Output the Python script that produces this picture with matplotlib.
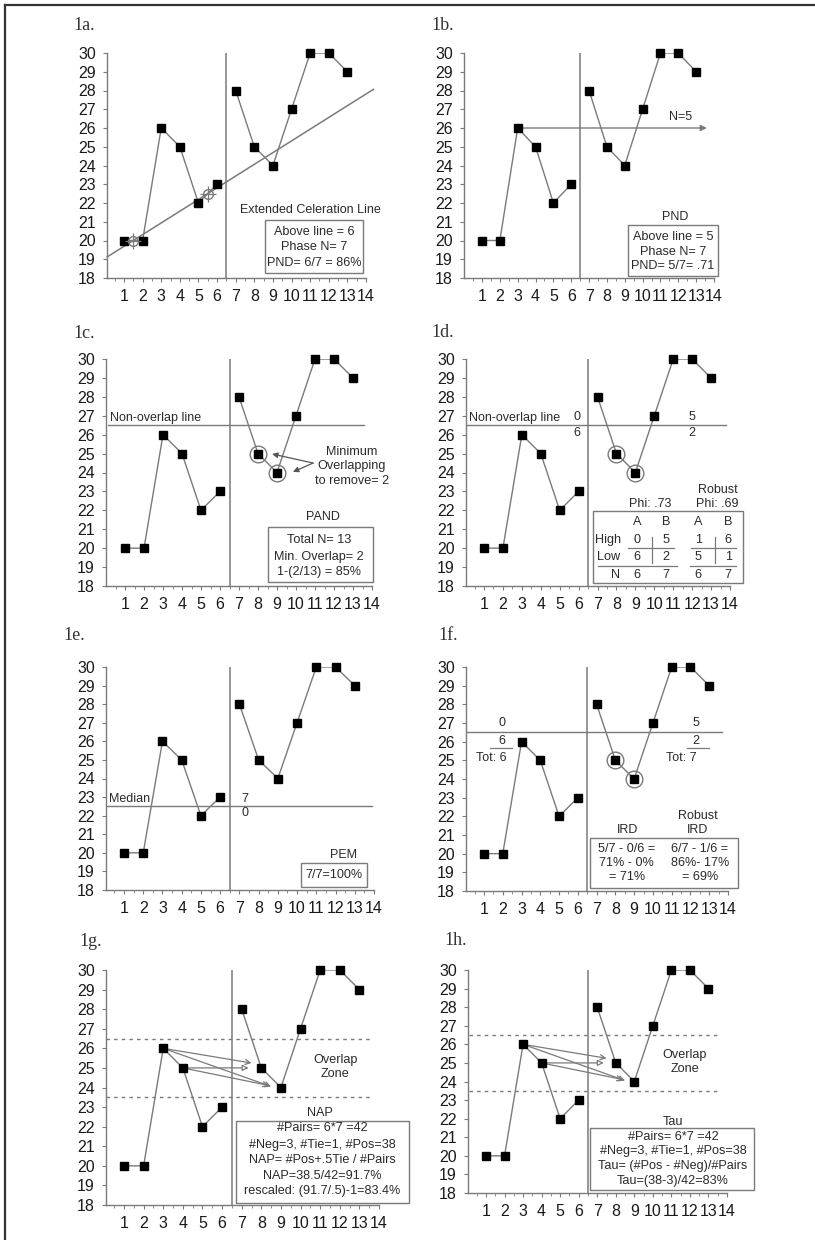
import numpy as np
import matplotlib.pyplot as plt

# --- data ---
sessions = np.arange(1, 14)
scores = [20, 20, 26, 25, 22, 23, 28, 25, 24, 27, 30, 30, 29]
n_a = 6  # phase A length, phase B = rest
phase_change = 6.5

celeration_pts_x = [1.5, 5.5]
celeration_pts_y = [20, 22.5]
nonoverlap_y = 26.5
median_y = 22.5
overlap_zone = [23.5, 26.5]
circled_sessions = [8, 9]

W, H = 815, 1240
GRAY = '#7a7a7a'
TXT = '#2a2a2a'
FS = 9      # annotation text
FB = 9.1    # text inside boxes
plt.rcParams['font.family'] = ['Liberation Sans', 'DejaVu Sans']

fig = plt.figure(figsize=(W / 100, H / 100), dpi=100)

# outer frame (top and left only, as in the scan)
fig.add_artist(plt.Line2D([5 / W, 5 / W], [0, 1 - 5 / H], color='#333333', lw=1.6))
fig.add_artist(plt.Line2D([5 / W, 1], [1 - 5 / H, 1 - 5 / H], color='#333333', lw=1.6))


def make_panel(label, lab_xy, yaxis_px, x1_px, x14_px, top_px, bot_px):
    sp = (x14_px - x1_px) / 13
    xl = 1 - (x1_px - yaxis_px) / sp
    ax = fig.add_axes([yaxis_px / W, 1 - bot_px / H,
                       (x14_px - yaxis_px) / W, (bot_px - top_px) / H])
    ax.set_xlim(xl, 14)
    ax.set_ylim(18, 30)
    for s in ['top', 'right']:
        ax.spines[s].set_visible(False)
    for s in ['left', 'bottom']:
        ax.spines[s].set_color(GRAY)
        ax.spines[s].set_linewidth(1.0)
    ax.set_xticks(range(1, 15))
    ax.set_xticks(np.arange(0.5, 14.01, 0.5), minor=True)
    ax.set_yticks(range(18, 31))
    ax.tick_params(axis='both', which='both', color=GRAY, labelsize=11.5,
                   labelcolor='#1a1a1a', direction='out')
    ax.tick_params(axis='x', which='major', length=3, pad=5)
    ax.tick_params(axis='x', which='minor', length=2)
    ax.tick_params(axis='y', length=3, pad=5)
    ax.axvline(phase_change, color=GRAY, lw=1.1)
    for sl in (slice(0, n_a), slice(n_a, None)):
        ax.plot(sessions[sl], scores[sl], '-', color=GRAY, lw=1.0, zorder=3)
        ax.plot(sessions[sl], scores[sl], 's', color='black', ms=5.5,
                zorder=4, clip_on=False)
    fig.text(lab_xy[0] / W, 1 - lab_xy[1] / H, label, family='Liberation Serif',
             fontsize=13, color='#333333', va='baseline')
    return ax


def box(ax, x0, y0, x1, y1):
    ax.add_patch(plt.Rectangle((x0, y0), x1 - x0, y1 - y0, fill=False,
                               ec=GRAY, lw=1.0, clip_on=False, zorder=5))


def txt(ax, x, y, s, size=FS, ha='center', va='center'):
    ax.text(x, y, s, fontsize=size, ha=ha, va=va, color=TXT, clip_on=False,
            zorder=6)


def circles(ax):
    yy = [scores[s - 1] for s in circled_sessions]
    ax.plot(circled_sessions, yy, 'o', mfc='none', mec=GRAY, ms=12, mew=1.0,
            zorder=5)


# ---------- 1a ----------
ax = make_panel('1a.', (73, 30), 107, 124, 366, 53, 278)
slope = (celeration_pts_y[1] - celeration_pts_y[0]) / (celeration_pts_x[1] - celeration_pts_x[0])
lx = np.array([0.1, 14.4])
ax.plot(lx, celeration_pts_y[0] + slope * (lx - celeration_pts_x[0]), color=GRAY,
        lw=1.1, clip_on=False, zorder=2)
ax.plot(celeration_pts_x, celeration_pts_y, 'o', mfc='none', mec=GRAY, ms=7, zorder=5)
ax.plot(celeration_pts_x, celeration_pts_y, '+', color=GRAY, ms=12, mew=0.9, zorder=5)
txt(ax, 11.0, 21.63, 'Extended Celeration Line')
box(ax, 8.58, 18.27, 13.85, 21.09)
for yy, s in zip([20.45, 19.65, 18.8], ['Above line = 6', 'Phase N= 7', 'PND= 6/7 = 86%']):
    txt(ax, 11.2, yy, s, FB)

# ---------- 1b ----------
ax = make_panel('1b.', (431, 30), 464, 482, 714, 53, 278)
ax.annotate('', xy=(13.6, 26), xytext=(3, 26),
            arrowprops=dict(arrowstyle='-|>', color=GRAY, lw=1.0,
                            mutation_scale=9, shrinkA=0, shrinkB=0),
            annotation_clip=False)
txt(ax, 12.1, 26.6, 'N=5')
txt(ax, 11.8, 21.25, 'PND')
box(ax, 9.18, 18.1, 14.2, 20.83)
for yy, s in zip([20.19, 19.39, 18.64], ['Above line = 5', 'Phase N= 7', 'PND= 5/7= .71']):
    txt(ax, 11.7, yy, s, FB)

# ---------- 1c ----------
ax = make_panel('1c.', (73, 338), 106, 125, 372, 359, 586)
ax.plot([0.1, 13.6], [nonoverlap_y] * 2, color=GRAY, lw=1.0)
txt(ax, 0.2, nonoverlap_y + 0.05, 'Non-overlap line', ha='left', va='bottom')
circles(ax)
for hx, hy in [(8.74, 24.98), (9.84, 24.03)]:
    ax.annotate('', xy=(hx, hy), xytext=(10.9, 24.5),
                arrowprops=dict(arrowstyle='-|>', color='#555555', lw=0.9,
                                mutation_scale=8, shrinkA=0, shrinkB=0),
                annotation_clip=False)
for yy, s in zip([25.08, 24.34, 23.55], ['Minimum', 'Overlapping', 'to remove= 2']):
    txt(ax, 12.95, yy, s, FB)
txt(ax, 11.4, 21.65, 'PAND')
box(ax, 8.53, 18.21, 14.05, 21.12)
for yy, s in zip([20.43, 19.53, 18.74], ['Total N= 13', 'Min. Overlap= 2', '1-(2/13) = 85%']):
    txt(ax, 11.2, yy, s, FB)

# ---------- 1d ----------
ax = make_panel('1d.', (431, 337), 466, 484, 730, 359, 586)
ax.plot([0.1, 13.8], [nonoverlap_y] * 2, color=GRAY, lw=1.0)
txt(ax, 0.2, nonoverlap_y + 0.05, 'Non-overlap line', ha='left', va='bottom')
txt(ax, 5.9, 26.93, '0')
txt(ax, 5.9, 26.09, '6')
txt(ax, 12.0, 26.93, '5')
txt(ax, 12.0, 26.09, '2')
circles(ax)
txt(ax, 9.78, 22.34, 'Phi: .73')
txt(ax, 13.38, 23.08, 'Robust')
txt(ax, 13.33, 22.34, 'Phi: .69')
box(ax, 6.77, 18.16, 14.7, 21.97)
cols = [9.1, 10.63, 12.32, 13.9]
rows = {'head': 21.38, 'High': 20.43, 'Low': 19.53, 'N': 18.58}
for cx, s in zip(cols, ['A', 'B', 'A', 'B']):
    txt(ax, cx, rows['head'], s, FB)
for cx, s in zip(cols, ['0', '5', '1', '6']):
    txt(ax, cx, rows['High'], s, FB)
for cx, s in zip(cols, ['6', '2', '5', '1']):
    txt(ax, cx, rows['Low'], s, FB)
for cx, s in zip(cols, ['6', '7', '6', '7']):
    txt(ax, cx, rows['N'], s, FB)
txt(ax, 7.56, rows['High'], 'High', FB)
txt(ax, 7.56, rows['Low'], 'Low', FB)
txt(ax, 7.93, rows['N'], 'N', FB)
for xa, xb in [(8.62, 11.05), (11.95, 14.3)]:
    ax.plot([xa, xb], [20.0, 20.0], color=GRAY, lw=0.9, clip_on=False)
for xa, xb in [(7.03, 11.2), (11.9, 14.3)]:
    ax.plot([xa, xb], [19.06, 19.06], color=GRAY, lw=0.9, clip_on=False)
for vx in [9.89, 13.22]:
    ax.plot([vx, vx], [19.22, 20.6], color=GRAY, lw=0.9, clip_on=False)

# ---------- 1e ----------
ax = make_panel('1e.', (63, 640), 106, 124, 374, 667, 890)
ax.plot([0.1, 13.9], [median_y] * 2, color=GRAY, lw=1.0)
txt(ax, 0.2, median_y + 0.05, 'Median', ha='left', va='bottom')
txt(ax, 7.3, 22.9, '7')
txt(ax, 7.3, 22.14, '0')
txt(ax, 12.4, 19.88, 'PEM')
box(ax, 10.2, 18.16, 13.64, 19.45)
txt(ax, 11.92, 18.8, '7/7=100%', FB)

# ---------- 1f ----------
ax = make_panel('1f.', (438, 640), 466, 484, 728, 667, 891)
ax.plot([0.1, 13.7], [nonoverlap_y] * 2, color=GRAY, lw=1.0)
circles(ax)
txt(ax, 1.96, 27.0, '0')
txt(ax, 1.96, 26.04, '6')
ax.plot([1.3, 2.5], [25.66, 25.66], color=GRAY, lw=0.9)
txt(ax, 1.4, 25.13, 'Tot: 6')
txt(ax, 12.3, 27.0, '5')
txt(ax, 12.3, 26.04, '2')
ax.plot([11.8, 13.0], [25.66, 25.66], color=GRAY, lw=0.9)
txt(ax, 11.5, 25.13, 'Tot: 7')
txt(ax, 8.67, 21.27, 'IRD')
txt(ax, 12.4, 22.0, 'Robust')
txt(ax, 12.4, 21.27, 'IRD')
box(ax, 6.65, 18.16, 14.53, 20.84)
for yy, a, b in zip([20.25, 19.5, 18.75], ['5/7 - 0/6 =', '71% - 0%', '= 71%'],
                    ['6/7 - 1/6 =', '86%- 17%', '= 69%']):
    txt(ax, 8.6, yy, a, FB)
    txt(ax, 12.5, yy, b, FB)


# ---------- 1g / 1h ----------
def pair_arrows(ax):
    pairs = [((3, 26), (7.5, 25.25), '->', 'none'),
             ((3, 26), (8.5, 24.05), '->', 'none'),
             ((4, 25), (7.35, 25.0), '-|>', 'white'),
             ((4, 25), (8.4, 24.1), '->', 'none')]
    for start, end, style, fc in pairs:
        props = dict(arrowstyle=style, color=GRAY, lw=0.9, mutation_scale=9,
                     shrinkA=0, shrinkB=0)
        if fc == 'white':
            props = dict(arrowstyle=style, ec=GRAY, fc='white', lw=0.9,
                         mutation_scale=9, shrinkA=0, shrinkB=0)
        ax.annotate('', xy=end, xytext=start, arrowprops=props, zorder=2)


ax = make_panel('1g.', (79, 946), 106, 124, 379, 970, 1205)
for yz in overlap_zone:
    ax.plot([0.1, 13.7], [yz, yz], color=GRAY, lw=1.0, ls=(0, (2.5, 3)))
pair_arrows(ax)
txt(ax, 11.77, 25.05, 'Overlap\nZone', FB)
txt(ax, 11.0, 22.7, 'NAP', FB)
box(ax, 6.7, 18.1, 15.55, 22.29)
for yy, s in zip([21.93, 21.06, 20.3, 19.48, 18.71],
                 ['#Pairs= 6*7 =42', '#Neg=3, #Tie=1, #Pos=38',
                  'NAP= #Pos+.5Tie / #Pairs', 'NAP=38.5/42=91.7%',
                  'rescaled: (91.7/.5)-1=83.4%']):
    txt(ax, 11.1, yy, s, FB)

ax = make_panel('1h.', (444, 945), 468, 486, 727, 970, 1193)
for yz in overlap_zone:
    ax.plot([0.1, 13.5], [yz, yz], color=GRAY, lw=1.0, ls=(0, (2.5, 3)))
pair_arrows(ax)
txt(ax, 11.73, 25.05, 'Overlap\nZone', FB)
txt(ax, 11.09, 21.82, 'Tau', FB)
box(ax, 6.61, 18.16, 15.45, 21.5)
for yy, s in zip([21.01, 20.26, 19.45, 18.64],
                 ['#Pairs= 6*7 =42', '#Neg=3, #Tie=1, #Pos=38',
                  'Tau= (#Pos - #Neg)/#Pairs', 'Tau=(38-3)/42=83%']):
    txt(ax, 11.09, yy, s, FB)

fig.savefig('out.png', dpi=100, facecolor='white')
